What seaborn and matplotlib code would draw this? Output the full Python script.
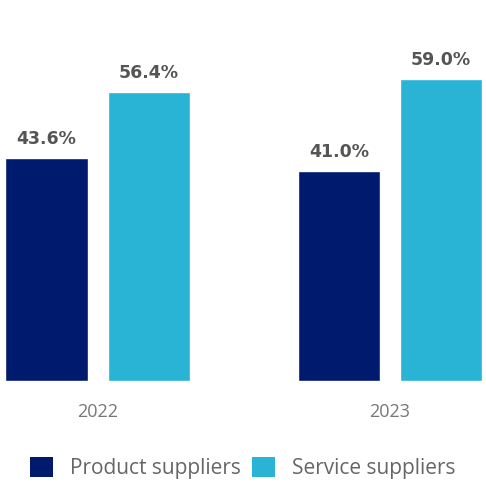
import pandas as pd
import matplotlib.pyplot as plt
import seaborn as sns
from matplotlib.patches import Patch

years = ['2022', '2023']
product_share = [43.6, 41.0]
service_share = [56.4, 59.0]
series_names = ['Product suppliers', 'Service suppliers']
colors = ['#001a6e', '#29b3d5']

sns.set_theme(style='white')
plt.rcParams['font.family'] = ['Open Sans', 'DejaVu Sans']

df = pd.DataFrame({
    'Year': years * 2,
    'Share': product_share + service_share,
    'Type': [series_names[0]] * len(years) + [series_names[1]] * len(years),
})

fig = plt.figure(figsize=(4.86, 4.83), dpi=100)
ax = fig.add_axes([0, 102 / 483, 1, 381 / 483])

sns.barplot(data=df, x='Year', y='Share', hue='Type', palette=colors,
            width=0.70, gap=0.195, legend=False, ax=ax, saturation=1)

for cont in ax.containers:
    ax.bar_label(cont, fmt='%.1f%%', padding=7, fontsize=12.5, fontweight='bold',
                 color='#555555', family=['DejaVu Sans'])

ax.set_xlim(-0.3345, 1.3285)
ax.set_ylim(0, 74.4)
ax.set_xlabel('')
ax.set_ylabel('')
ax.set_yticks([])
ax.tick_params(axis='x', length=0, pad=16, labelsize=13, labelcolor='#777777')
for s in ax.spines.values():
    s.set_visible(False)

handles = [Patch(facecolor=c, edgecolor='none') for c in colors]
fig.legend(handles, series_names, loc='center', bbox_to_anchor=(0.5, 1 - 468 / 483),
           ncol=2, frameon=False, fontsize=15, labelcolor='#666666',
           handlelength=1.1, handleheight=1.1, handletextpad=0.82, columnspacing=0.53)

fig.savefig('out.png', dpi=100)
